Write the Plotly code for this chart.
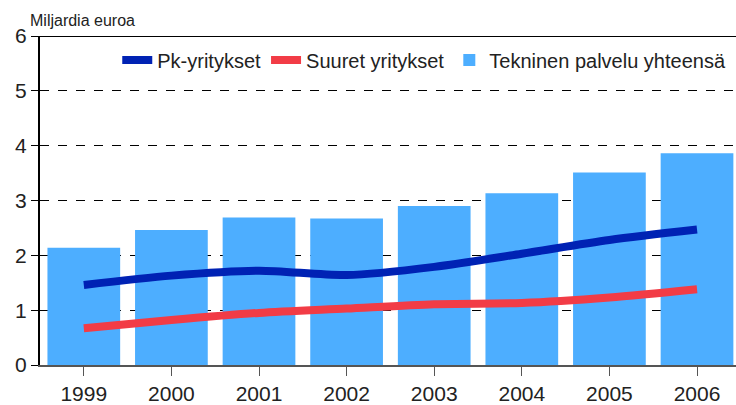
import plotly.graph_objects as go

years = ["1999", "2000", "2001", "2002", "2003", "2004", "2005", "2006"]
total = [2.14, 2.46, 2.69, 2.67, 2.90, 3.13, 3.51, 3.86]
pk = [1.46, 1.63, 1.72, 1.64, 1.79, 2.03, 2.28, 2.47]
suuret = [0.67, 0.82, 0.95, 1.03, 1.11, 1.13, 1.23, 1.38]
y_ticks = [0, 1, 2, 3, 4, 5, 6]

FONT = "Liberation Sans"

fig = go.Figure()
fig.add_trace(go.Bar(
    x=years, y=total, name="Tekninen palvelu yhteensä", legendrank=3,
    marker=dict(color="#4daeff", line=dict(width=0)),
))
fig.add_trace(go.Scatter(
    x=years, y=pk, mode="lines", name="Pk-yritykset", legendrank=1,
    line=dict(color="#0022b4", width=8, shape="spline", smoothing=0.8),
))
fig.add_trace(go.Scatter(
    x=years, y=suuret, mode="lines", name="Suuret yritykset", legendrank=2,
    line=dict(color="#f23c46", width=8, shape="spline", smoothing=0.8),
))

fig.update_layout(
    width=736, height=405,
    margin=dict(l=40, r=0, t=36, b=40, autoexpand=False),
    paper_bgcolor="white", plot_bgcolor="white",
    font=dict(family=FONT, size=17, color="#222"),
    bargap=0.17,
    showlegend=True,
    legend=dict(orientation="h", x=0.111, y=0.927, xanchor="left", yanchor="middle",
                bgcolor="rgba(0,0,0,0)", font=dict(size=20, family=FONT),
                itemwidth=30, tracegroupgap=0),
    annotations=[dict(text="Miljardia euroa", xref="paper", yref="paper",
                      x=-0.017, y=1.0, xanchor="left", yanchor="bottom",
                      yshift=5, showarrow=False, font=dict(size=16, family=FONT))],
)
fig.update_xaxes(
    type="category", range=[-0.5, 7.445],
    showline=True, linecolor="#555", linewidth=2,
    ticks="outside", ticklen=9, tickcolor="#555", tickwidth=1,
    showgrid=False, tickfont=dict(size=21, family=FONT),
)
fig.update_yaxes(
    range=[0, 6], tickvals=y_ticks,
    showline=True, linecolor="black", linewidth=2,
    ticks="outside", ticklen=7, tickcolor="black",
    showgrid=True, gridcolor="black", griddash="dash", gridwidth=1,
    zeroline=False, tickfont=dict(size=21, family=FONT),
)
fig.add_shape(type="line", xref="paper", yref="y", x0=0, x1=1, y0=6, y1=6,
              line=dict(color="black", width=2))
fig.write_html("out.html", config={"displayModeBar": False},
               post_script="document.body.style.margin='0';document.body.style.overflow='hidden';")
